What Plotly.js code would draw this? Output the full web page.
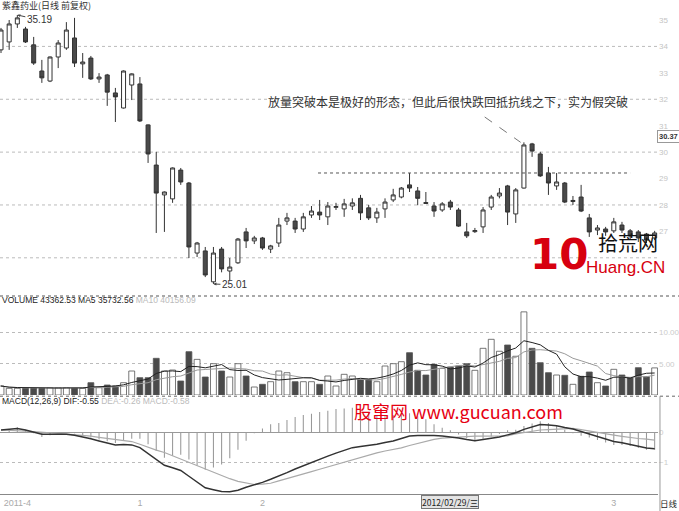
<!DOCTYPE html>
<html>
<head>
<meta charset="utf-8">
<script src="https://cdn.plot.ly/plotly-3.0.1.min.js"></script>
<style>html,body{margin:0;padding:0;background:#fff;}#chart{width:679px;height:511px;}</style>
</head>
<body>
<div id="chart"></div>
<script>
// ---- data ----
const openP = [
  33.87,34.17,34.85,34.66,34.06,33.07,32.69,33.60,33.94,34.32,
  33.34,33.56,32.77,32.92,32.24,31.67,32.54,32.58,31.03,29.51,
  28.38,28.23,29.32,28.83,26.18,26.26,25.09,26.33,25.50,25.81,
  26.98,26.64,26.75,26.33,26.56,27.39,27.39,27.09,27.62,27.73,
  27.55,27.91,27.85,27.96,28.25,27.89,27.51,27.85,28.19,28.30,
  28.76,28.53,28.09,27.96,27.81,28.11,27.81,26.98,26.99,27.17,
  27.92,28.34,28.72,27.66,28.64,30.31,29.93,29.21,28.72,28.83,
  28.13,28.30,27.51,27.05,27.09,27.02,27.24,27.02,26.98,26.90,26.75];
const highP = [
  34.70,35.00,35.19,34.74,34.36,33.49,33.62,34.24,34.92,35.08,
  33.75,33.64,32.99,32.96,32.43,33.09,32.98,32.84,31.05,30.01,
  28.51,29.42,29.40,28.87,26.60,26.41,26.41,26.41,25.99,26.75,
  27.13,26.83,26.79,26.49,27.51,27.70,27.51,27.70,27.96,28.19,
  28.11,28.08,28.23,28.25,28.38,28.00,27.89,28.25,28.61,28.68,
  29.21,28.68,28.49,28.11,28.11,28.19,27.89,27.32,27.13,27.92,
  28.38,28.64,28.76,28.64,30.37,30.35,30.01,29.44,29.21,28.87,
  28.34,28.76,27.66,27.24,27.17,27.51,27.36,27.09,27.05,26.94,27.02];
const lowP = [
  33.75,33.87,34.70,34.13,33.30,32.62,32.65,33.18,33.87,33.22,
  32.81,32.73,32.62,31.75,31.14,31.65,31.97,31.14,29.59,26.94,
  26.98,28.08,28.76,25.99,26.03,25.27,25.01,25.45,25.16,25.77,
  26.37,26.52,26.30,26.18,26.41,27.24,26.94,26.98,27.51,27.43,
  27.24,27.81,27.55,27.81,27.43,27.43,27.32,27.51,28.11,28.25,
  28.49,27.99,28.04,27.55,27.74,27.81,27.17,26.75,26.94,26.94,
  27.81,28.25,27.24,27.32,28.62,29.82,29.06,28.38,28.57,28.07,
  28.00,27.73,26.79,26.86,26.83,26.94,26.94,26.71,26.60,26.56,26.67];
const closeP = [
  34.62,34.85,35.08,34.17,33.37,32.81,33.60,34.13,34.62,33.37,
  33.41,32.77,32.84,32.27,32.09,33.07,32.96,31.18,29.93,28.45,
  28.49,29.40,28.87,26.41,26.56,25.35,26.18,25.58,25.65,26.71,
  26.64,26.75,26.37,26.45,27.24,27.51,27.09,27.55,27.77,27.62,
  27.96,27.94,28.04,28.08,27.70,27.51,27.73,28.11,28.38,28.64,
  28.64,28.25,28.06,27.77,28.04,27.92,27.20,26.83,27.03,27.81,
  28.30,28.45,27.73,28.57,30.27,30.04,29.10,28.83,28.87,28.11,
  28.17,27.77,26.98,27.13,26.98,27.36,27.05,26.83,26.75,26.67,26.94];
const volume = [
  14400,10700,10700,10700,10700,10700,11700,11700,11700,10700,
  10700,19700,11700,16000,14400,19700,38400,27700,27700,58700,
  38400,40000,22400,69300,57000,28800,50100,38400,28800,50100,
  30400,12800,17100,21300,38400,35700,21300,21300,21300,17100,
  30400,14400,33100,30400,25100,25100,21300,46400,50100,53300,
  67700,39500,32000,49100,42700,44800,46400,50100,39500,74700,
  89100,70000,80000,62000,133000,74700,51700,35700,32000,31500,
  17100,29900,36800,19700,14400,41100,32000,27700,43700,29300,43363];
const dif = [
  0.07,0.09,0.12,0.07,0.00,-0.07,-0.07,-0.07,-0.07,-0.10,
  -0.15,-0.22,-0.29,-0.35,-0.42,-0.41,-0.42,-0.51,-0.70,-0.90,
  -1.09,-1.17,-1.26,-1.45,-1.65,-1.83,-1.89,-1.95,-1.96,-1.91,
  -1.81,-1.74,-1.65,-1.55,-1.45,-1.33,-1.21,-1.10,-1.00,-0.89,
  -0.79,-0.69,-0.60,-0.51,-0.47,-0.44,-0.40,-0.34,-0.29,-0.21,
  -0.13,-0.11,-0.10,-0.11,-0.13,-0.15,-0.19,-0.24,-0.28,-0.24,
  -0.20,-0.16,-0.09,-0.02,0.09,0.17,0.25,0.23,0.21,0.15,
  0.10,0.02,-0.06,-0.14,-0.23,-0.31,-0.35,-0.41,-0.47,-0.52,-0.55];
const dea = [
  0.07,0.05,0.04,0.03,0.02,0.01,-0.02,-0.04,-0.06,-0.08,
  -0.10,-0.13,-0.17,-0.20,-0.24,-0.28,-0.31,-0.40,-0.50,-0.59,
  -0.67,-0.78,-0.89,-1.00,-1.10,-1.21,-1.31,-1.42,-1.53,-1.62,
  -1.67,-1.72,-1.71,-1.68,-1.60,-1.53,-1.46,-1.38,-1.30,-1.22,
  -1.14,-1.07,-0.99,-0.91,-0.83,-0.75,-0.68,-0.62,-0.57,-0.52,
  -0.44,-0.37,-0.31,-0.24,-0.20,-0.18,-0.15,-0.14,-0.13,-0.13,
  -0.13,-0.13,-0.12,-0.06,-0.01,0.03,0.07,0.08,0.10,0.11,
  0.12,0.08,0.03,-0.01,-0.06,-0.10,-0.14,-0.18,-0.21,-0.23,-0.26];
const xTickPos = [2, 17, 32, 75];
const xTickText = ['2011-4', '1', '2', '3'];
const priceTicks = [27,28,29,30,31,32,33,34,35];
const priceGrid = [26,28,30,32,34];
const volTicks = [50000,100000];
const macdTicks = [-1,0];

// ---- derived ----
const idx = openP.map((_, i) => i);
function ma(arr, n) {
  return arr.map((_, i) => {
    const s = arr.slice(Math.max(0, i - n + 1), i + 1);
    return s.reduce((a, b) => a + b, 0) / s.length;
  });
}
const up = closeP.map((c, i) => c >= openP[i]);
const volColors = up.map(u => u ? '#ffffff' : '#4a4a4a');
const macdHist = dif.map((d, i) => 2 * (d - dea[i]));

const traces = [
  {type:'candlestick', x:idx, open:openP, high:highP, low:lowP, close:closeP,
   xaxis:'x', yaxis:'y',
   increasing:{line:{color:'#333', width:1}, fillcolor:'#ffffff'},
   decreasing:{line:{color:'#333', width:1}, fillcolor:'#4a4a4a'},
   whiskerwidth:0, hoverinfo:'skip'},
  {type:'bar', x:idx, y:volume, xaxis:'x', yaxis:'y2',
   marker:{color:volColors, line:{color:'#555', width:0.8}}, hoverinfo:'skip'},
  {type:'scatter', mode:'lines', x:idx, y:ma(volume,10), xaxis:'x', yaxis:'y2',
   line:{color:'#9a9a9a', width:1}, hoverinfo:'skip'},
  {type:'scatter', mode:'lines', x:idx, y:ma(volume,5), xaxis:'x', yaxis:'y2',
   line:{color:'#222', width:1}, hoverinfo:'skip'},
  {type:'bar', x:idx, y:macdHist, xaxis:'x', yaxis:'y3', width:0.13,
   marker:{color:'#999'}, hoverinfo:'skip'},
  {type:'scatter', mode:'lines', x:idx, y:dea, xaxis:'x', yaxis:'y3',
   line:{color:'#aaa', width:1.2}, hoverinfo:'skip'},
  {type:'scatter', mode:'lines', x:idx, y:dif, xaxis:'x', yaxis:'y3',
   line:{color:'#333', width:1.5}, hoverinfo:'skip'}
];

const cjk = 'Noto Sans CJK SC, Noto Sans, sans-serif';
const shapes = [];
priceGrid.forEach(v => shapes.push({type:'line', xref:'paper', yref:'y', x0:0, x1:1, y0:v, y1:v,
  line:{color:'#bbb', width:1, dash:'dot'}, layer:'below'}));
// resistance line at the high of the reference candle
shapes.push({type:'line', xref:'x', yref:'y', x0:38.8, x1:77, y0:highP[50], y1:highP[50],
  line:{color:'#555', width:1, dash:'dot'}});
// pointer line to the breakout candle
shapes.push({type:'line', xref:'x', yref:'y', x0:59.2, y0:31.33, x1:63.6, y1:highP[64],
  line:{color:'#777', width:1, dash:'dash'}});
// panel separators
shapes.push({type:'line', xref:'paper', yref:'paper', x0:0, x1:1.032, y0:0.4008, y1:0.4008,
  line:{color:'#555', width:1, dash:'dot'}});
shapes.push({type:'line', xref:'paper', yref:'paper', x0:0, x1:1.032, y0:0.198, y1:0.198,
  line:{color:'#666', width:1, dash:'dot'}});
shapes.push({type:'line', xref:'paper', yref:'paper', x0:1.003, x1:1.003, y0:-0.035, y1:0.198,
  line:{color:'#999', width:1}});

function A(o) { return Object.assign({xref:'paper', yref:'paper', showarrow:false,
  xanchor:'center', yanchor:'middle'}, o); }
const annotations = [
  A({x:0, y:0.989, xanchor:'left', text:'紫鑫药业(日线 前复权)',
     font:{family:cjk, size:9, color:'#333'}}),
  {xref:'x', yref:'y', x:2, y:highP[2], text:'35.19', showarrow:true, ax:22, ay:5,
   xanchor:'center', yanchor:'middle',
   arrowhead:2, arrowsize:0.6, arrowwidth:1, arrowcolor:'#444', font:{size:10, color:'#333'}},
  {xref:'x', yref:'y', x:26, y:lowP[26], text:'25.01', showarrow:true, ax:21, ay:1,
   xanchor:'center', yanchor:'middle',
   arrowhead:2, arrowsize:0.6, arrowwidth:1, arrowcolor:'#444', font:{size:10, color:'#333'}},
  A({x:0.681, y:0.7955, text:'放量突破本是极好的形态，但此后很快跌回抵抗线之下，实为假突破',
     font:{family:cjk, size:12, color:'#333'}}),
  A({x:0.9985, y:0.7227, xanchor:'left', text:'<b>30.37</b>', font:{size:7.5, color:'#333'},
     bordercolor:'#999', borderwidth:1, borderpad:1, bgcolor:'#fff'}),
  A({x:0, y:0.393, xanchor:'left',
     text:'VOLUME 43362.53 MA5 35732.56 <span style="color:#bbb">MA10 40156.09</span>',
     font:{size:8.5, color:'#222'}}),
  A({x:0, y:0.188, xanchor:'left',
     text:'MACD(12,26,9) DIF:-0.55 <span style="color:#bbb">DEA:-0.26 MACD:-0.58</span>',
     font:{size:8.5, color:'#222'}}),
  A({x:0.684, y:-0.016, text:'2012/02/29/三', font:{family:cjk, size:8.5, color:'#222'},
     bgcolor:'#e4e4e4', bordercolor:'#777', borderwidth:1, borderpad:0}),
  A({x:1.0, y:-0.018, xanchor:'left', text:'日线', font:{family:cjk, size:8.5, color:'#222'}}),
  A({x:0.535, y:0.168, xanchor:'left', text:'股窜网 www.gucuan.com',
     font:{family:cjk, size:18, color:'#e60012'}}),
  A({x:0.849, y:0.484, text:'<b>10</b>', font:{family:'DejaVu Sans, sans-serif', size:42, color:'#d7000f'}}),
  A({x:0.954, y:0.509, text:'拾荒网', font:{family:cjk, size:20, color:'#111'}}),
  A({x:0.95, y:0.4595, text:'Huang.CN',
     font:{family:'Liberation Sans, Arial, sans-serif', size:17, color:'#d7000f'}})
];

const layout = {
  width:679, height:511, margin:{l:0, r:21, t:0, b:17},
  paper_bgcolor:'#fff', plot_bgcolor:'#fff', showlegend:false, barmode:'overlay', bargap:0.28,
  font:{family:'Liberation Sans, Arial, sans-serif', size:9, color:'#333'},
  xaxis:{domain:[0,1], range:[-0.122, 80.41], anchor:'y3', showgrid:false, zeroline:false,
    showline:true, linecolor:'#888', linewidth:1, tickvals:xTickPos, ticktext:xTickText,
    ticks:'', tickfont:{size:9, color:'#aaa'}, rangeslider:{visible:false}, fixedrange:true},
  yaxis:{domain:[0.407,1], range:[24.67,35.757], side:'right', tickvals:priceTicks,
    tickfont:{size:8, color:'#c4c4c4'}, showgrid:false, zeroline:false, ticks:'', fixedrange:true},
  yaxis2:{domain:[0.2004,0.4008], range:[0,158400], side:'right', tickvals:volTicks,
    ticktext:['5.00','10.00'], tickfont:{size:8, color:'#ccc'}, showgrid:true, gridcolor:'#bbb',
    griddash:'dot', zeroline:false, ticks:'', fixedrange:true},
  yaxis3:{domain:[0,0.196], range:[-2.033,1.148], side:'right', tickvals:macdTicks,
    tickfont:{size:8, color:'#ccc'}, showgrid:true, gridcolor:'#bbb', griddash:'dot',
    zeroline:true, zerolinecolor:'#999', zerolinewidth:1, ticks:'', fixedrange:true},
  shapes:shapes, annotations:annotations
};

Plotly.newPlot('chart', traces, layout, {staticPlot:true, displayModeBar:false});
</script>
</body>
</html>
